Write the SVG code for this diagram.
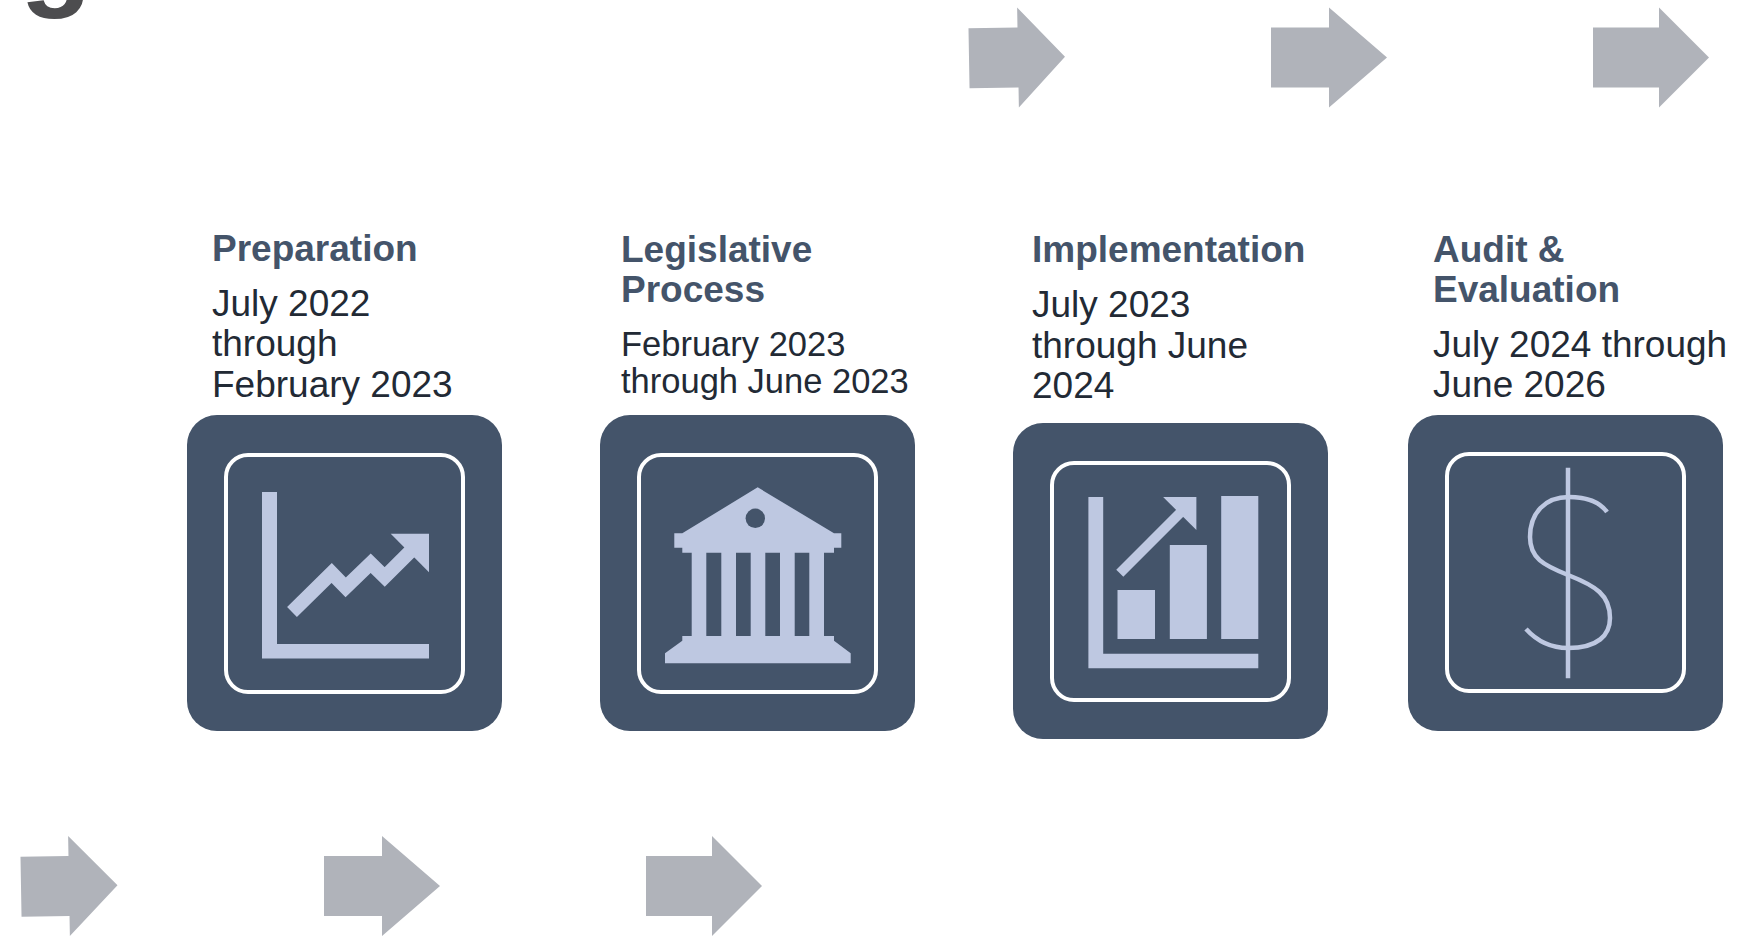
<svg xmlns="http://www.w3.org/2000/svg" width="1742" height="937" viewBox="0 0 1742 937">
<defs>
<style>
.box{fill:#44546a}
.frame{fill:none;stroke:#ffffff;stroke-width:4}
.ico{fill:#bec8e1}
.icoline{fill:none;stroke:#bec8e1}
.title{font-family:"Liberation Sans",Arial,sans-serif;font-weight:bold;font-size:37px;fill:#44546a}
.date{font-family:"Liberation Sans",Arial,sans-serif;font-size:37px;fill:#222a35}
.arrow{fill:#b0b3ba}
.hole{fill:#44546a}
</style>
</defs>
<rect width="1742" height="937" fill="#ffffff"/>
<text x="20" y="-6" font-family="'Liberation Sans',Arial,sans-serif" font-weight="bold" font-size="118" fill="#4d4d4f">g</text>

<g id="arrows">
<polygon class="arrow" transform="rotate(-1 1017 57.5)" points="969,27.5 1018,27.5 1018,7.5 1065,57.5 1018,107.5 1018,87.5 969,87.5"/>
<polygon class="arrow" points="1271,27.5 1329,27.5 1329,7.5 1387,57.5 1329,107.5 1329,87.5 1271,87.5"/>
<polygon class="arrow" points="1593,27.5 1659,27.5 1659,7.5 1709,57.5 1659,107.5 1659,87.5 1593,87.5"/>
<polygon class="arrow" transform="rotate(-1 69 886)" points="21,856 69,856 69,836 117.5,886 69,936 69,916 21,916"/>
<polygon class="arrow" points="324,856 382,856 382,836 440,886 382,936 382,916 324,916"/>
<polygon class="arrow" points="646,856 712,856 712,836 762,886 712,936 712,916 646,916"/>
</g>

<g id="node-preparation">
<text class="title" x="212" y="261">Preparation</text>
<text class="date" x="212" y="315.5">July 2022</text>
<text class="date" x="212" y="356">through</text>
<text class="date" x="212" y="396.5">February 2023</text>
<g transform="translate(187,415)">
<rect class="box" x="0" y="0" width="315" height="316" rx="30"/>
<rect class="frame" x="39" y="40" width="237" height="237" rx="22"/>
<path class="ico" d="M75,77 H90 V229 H242 V243.5 H75 Z"/>
<polyline class="icoline" stroke-width="14" points="105,197 144.7,158 158.7,172.3 183.7,148.3 197.7,162 225,134.7"/>
<polygon class="ico" points="203.7,118.7 242,118.7 242,157.3"/>
</g>
</g>

<g id="node-legislative">
<text class="title" x="621" y="262">Legislative</text>
<text class="title" x="621" y="302">Process</text>
<text class="date" x="621" y="355.5" style="font-size:34.5px">February 2023</text>
<text class="date" x="621" y="392.5" style="font-size:34.5px">through June 2023</text>
<g transform="translate(600,415)">
<rect class="box" x="0" y="0" width="315" height="316" rx="30"/>
<rect class="frame" x="39" y="40" width="237" height="237" rx="22"/>
<path class="ico" d="M74.3,118.3 H82.3 L157.7,72.3 L234,118.3 H241.3 V132.7 H234 V137.7 H82.3 V132.7 H74.3 Z"/>
<circle class="hole" cx="155.3" cy="103.3" r="9.7"/>
<rect class="ico" x="91.7" y="137" width="14.6" height="84.5"/>
<rect class="ico" x="121.3" y="137" width="14.7" height="84.5"/>
<rect class="ico" x="150.7" y="137" width="14.6" height="84.5"/>
<rect class="ico" x="180" y="137" width="14.7" height="84.5"/>
<rect class="ico" x="209.3" y="137" width="14.7" height="84.5"/>
<path class="ico" d="M82.3,221 H234 V225.7 L250.7,238.3 V248.3 H65 V238.3 L82.3,225.7 Z"/>
</g>
</g>

<g id="node-implementation">
<text class="title" x="1032" y="262">Implementation</text>
<text class="date" x="1032" y="317">July 2023</text>
<text class="date" x="1032" y="357.5">through June</text>
<text class="date" x="1032" y="398">2024</text>
<g transform="translate(1013,423)">
<rect class="box" x="0" y="0" width="315" height="316" rx="30"/>
<rect class="frame" x="39" y="40" width="237" height="237" rx="22"/>
<path class="ico" d="M75.4,74 H90.2 V230.7 H245.3 V245.3 H75.4 Z"/>
<rect class="ico" x="104.5" y="167" width="37.5" height="49"/>
<rect class="ico" x="156.8" y="122" width="37.1" height="94"/>
<rect class="ico" x="208.2" y="73" width="37.1" height="143"/>
<line class="icoline" stroke-width="10" x1="106.8" y1="150.3" x2="170" y2="87"/>
<polygon class="ico" points="150.1,74 183.4,74 183.4,107"/>
</g>
</g>

<g id="node-audit">
<text class="title" x="1433" y="262">Audit &amp;</text>
<text class="title" x="1433" y="302">Evaluation</text>
<text class="date" x="1433" y="357">July 2024 through</text>
<text class="date" x="1433" y="397">June 2026</text>
<g transform="translate(1408,415)">
<rect class="box" x="0" y="0" width="315" height="316" rx="30"/>
<rect class="frame" x="39" y="39" width="237" height="237" rx="22"/>
<line class="icoline" stroke-width="4.5" x1="160" y1="52.7" x2="160" y2="263.3"/>
<path class="icoline" stroke-width="4.5" d="M199,97 C191,86 178,82 161,82 C137,82 122,98 122,122 C122,143 135,150 160,160 C188,171 202,180 202,203 C202,220 190,233 160,233 C141,233 128,225 118,214"/>
</g>
</g>
</svg>
